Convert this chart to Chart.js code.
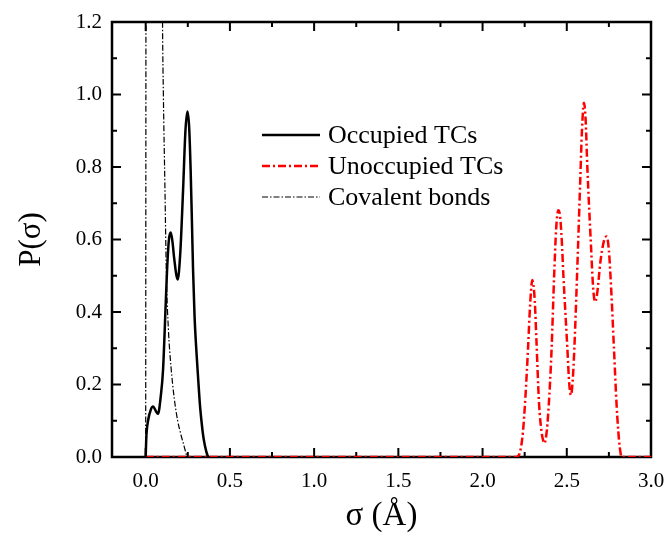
<!DOCTYPE html>
<html>
<head>
<meta charset="utf-8">
<script src="https://cdn.jsdelivr.net/npm/chart.js@4.4.1/dist/chart.umd.min.js"></script>
<style>
  body { margin: 0; background: #fff; }
  canvas { display: block; }
</style>
</head>
<body>
<canvas id="chart" width="668" height="547"></canvas>
<script>
// values
const occupiedX = [0, 0.004, 0.014, 0.03, 0.044, 0.06, 0.073, 0.09, 0.103, 0.119, 0.127, 0.138, 0.149, 0.16, 0.168, 0.19, 0.205, 0.222, 0.236, 0.248, 0.258, 0.267, 0.275, 0.281, 0.29, 0.3, 0.311, 0.321, 0.331, 0.341, 0.35, 0.36, 0.37];
const occupiedY = [0, 0.056, 0.1, 0.13, 0.139, 0.127, 0.119, 0.17, 0.24, 0.424, 0.516, 0.6, 0.619, 0.59, 0.553, 0.49, 0.56, 0.737, 0.9, 0.953, 0.91, 0.79, 0.64, 0.52, 0.39, 0.3, 0.22, 0.15, 0.1, 0.06, 0.035, 0.015, 0];

const unoccupiedX = [0, 2.2, 2.22, 2.24, 2.255, 2.27, 2.28, 2.288, 2.295, 2.302, 2.31, 2.32, 2.335, 2.35, 2.36, 2.367, 2.375, 2.385, 2.4, 2.41, 2.425, 2.437, 2.45, 2.46, 2.47, 2.48, 2.503, 2.515, 2.525, 2.535, 2.545, 2.56, 2.58, 2.59, 2.602, 2.612, 2.622, 2.644, 2.656, 2.668, 2.68, 2.7, 2.72, 2.737, 2.75, 2.765, 2.78, 2.795, 2.806, 2.815, 2.826, 3.0];
const unoccupiedY = [0, 0, 0.01, 0.07, 0.17, 0.3, 0.4, 0.46, 0.488, 0.475, 0.43, 0.32, 0.15, 0.07, 0.045, 0.038, 0.05, 0.09, 0.2, 0.3, 0.5, 0.63, 0.681, 0.665, 0.6, 0.5, 0.304, 0.2, 0.171, 0.21, 0.3, 0.488, 0.764, 0.9, 0.977, 0.93, 0.8, 0.58, 0.47, 0.428, 0.45, 0.54, 0.595, 0.608, 0.57, 0.45, 0.3, 0.15, 0.07, 0.025, 0, 0];

const covalentX = [0, 0.002, 0.01, 0.06, 0.097, 0.1, 0.105, 0.114, 0.123, 0.135, 0.15, 0.17, 0.19, 0.21, 0.225, 0.245];
const covalentY = [0, 1.5, 3, 3, 1.5, 1.2, 1.0, 0.75, 0.5, 0.35, 0.25, 0.16, 0.1, 0.06, 0.035, 0];

const xTicks = [0, 0.5, 1.0, 1.5, 2.0, 2.5, 3.0];
const yTicks = [0, 0.2, 0.4, 0.6, 0.8, 1.0, 1.2];
const seriesNames = ['Occupied TCs', 'Unoccupied TCs', 'Covalent bonds'];

const serif = '"Liberation Serif", "Times New Roman", serif';

function points(xs, ys) {
    return xs.map((x, i) => ({ x: x, y: ys[i] }));
}

// frame with inward major/minor ticks on all four sides, plus the legend
const framePlugin = {
    id: 'frame',
    beforeDatasetsDraw(chart) {
        const ctx = chart.ctx;
        const a = chart.chartArea;
        const xs = chart.scales.x;
        const ys = chart.scales.y;
        ctx.save();
        ctx.strokeStyle = '#000';
        ctx.lineWidth = 2.5;
        ctx.strokeRect(a.left, a.top, a.right - a.left, a.bottom - a.top);
        ctx.lineWidth = 2;
        ctx.beginPath();
        for (let v = 0; v <= 3.0001; v += 0.25) {
            const px = xs.getPixelForValue(v);
            const len = Math.abs(v / 0.5 - Math.round(v / 0.5)) < 0.01 ? 9 : 5;
            ctx.moveTo(px, a.bottom); ctx.lineTo(px, a.bottom - len);
            ctx.moveTo(px, a.top); ctx.lineTo(px, a.top + len);
        }
        for (let v = 0; v <= 1.2001; v += 0.1) {
            const py = ys.getPixelForValue(v);
            const len = Math.abs(v / 0.2 - Math.round(v / 0.2)) < 0.01 ? 9 : 5;
            ctx.moveTo(a.left, py); ctx.lineTo(a.left + len, py);
            ctx.moveTo(a.right, py); ctx.lineTo(a.right - len, py);
        }
        ctx.stroke();
        ctx.restore();
    },
    afterDraw(chart) {
        const ctx = chart.ctx;
        const rows = [135, 166, 197];
        ctx.save();
        ctx.font = '26px ' + serif;
        ctx.textBaseline = 'middle';
        ctx.fillStyle = '#000';
        chart.data.datasets.forEach((ds, i) => {
            ctx.beginPath();
            ctx.strokeStyle = ds.borderColor;
            ctx.lineWidth = ds.borderWidth;
            ctx.setLineDash(ds.borderDash || []);
            ctx.moveTo(262, rows[i]);
            ctx.lineTo(320, rows[i]);
            ctx.stroke();
            ctx.fillText(seriesNames[i], 328, rows[i] + 1);
        });
        ctx.restore();
    }
};

const tickFont = { family: serif, size: 21 };

new Chart(document.getElementById('chart'), {
    type: 'line',
    data: {
        datasets: [
            {
                label: seriesNames[0],
                data: points(occupiedX, occupiedY),
                borderColor: '#000',
                borderWidth: 2.5,
                cubicInterpolationMode: 'monotone'
            },
            {
                label: seriesNames[1],
                data: points(unoccupiedX, unoccupiedY),
                borderColor: '#ff0000',
                borderWidth: 2.5,
                borderDash: [8, 3, 2, 3],
                cubicInterpolationMode: 'monotone'
            },
            {
                label: seriesNames[2],
                data: points(covalentX, covalentY),
                borderColor: '#000',
                borderWidth: 1.2,
                borderDash: [6, 2, 1.5, 2],
                cubicInterpolationMode: 'monotone'
            }
        ]
    },
    options: {
        responsive: false,
        animation: false,
        layout: { padding: { top: 22, right: 17, left: 0, bottom: 0 } },
        elements: { point: { radius: 0 } },
        plugins: { legend: { display: false }, tooltip: { enabled: false } },
        scales: {
            x: {
                type: 'linear',
                min: -0.2,
                max: 3.0,
                afterBuildTicks: scale => { scale.ticks = xTicks.map(v => ({ value: v })); },
                afterFit: scale => { scale.height = 90; scale.paddingLeft = 0; scale.paddingRight = 0; },
                grid: { display: false, drawTicks: false },
                border: { display: false },
                ticks: { font: tickFont, color: '#000', padding: 12, maxRotation: 0, autoSkip: false,
                         callback: v => Number(v).toFixed(1) },
                title: { display: true, text: 'σ (Å)', color: '#000', font: { family: serif, size: 33 },
                         padding: { top: 0, bottom: 11 } }
            },
            y: {
                min: 0,
                max: 1.2,
                afterBuildTicks: scale => { scale.ticks = yTicks.map(v => ({ value: v })); },
                afterFit: scale => { scale.width = 112; scale.paddingTop = 0; scale.paddingBottom = 0; },
                grid: { display: false, drawTicks: false },
                border: { display: false },
                ticks: { font: tickFont, color: '#000', padding: 10, autoSkip: false,
                         callback: v => Number(v).toFixed(1) },
                title: { display: true, text: 'P(σ)', color: '#000', font: { family: serif, size: 31 },
                         padding: { top: 13, bottom: 0 } }
            }
        }
    },
    plugins: [framePlugin]
});
</script>
</body>
</html>
